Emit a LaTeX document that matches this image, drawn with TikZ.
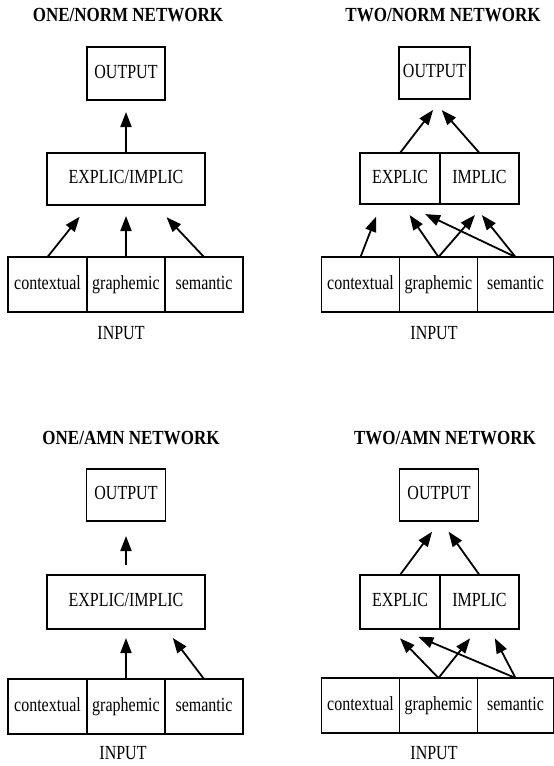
\documentclass[tikz,border=0pt]{standalone}
\usepackage{fontspec}
\setmainfont{Liberation Serif}[FakeStretch=0.8]
\newfontfamily\headfont{Liberation Serif}[FakeStretch=0.85]
\usetikzlibrary{positioning, arrows.meta}
\tikzset{x=1pt, y=-1pt, % one unit is one pixel of the page, y runs down
box/.style={ % Sets the properties for each unit box
draw, line width=1.5pt,
outer sep=0pt, inner sep=0pt,
text height=14pt, text depth=5pt,
font=\fontsize{20}{22}\selectfont},
inbox/.style={box, minimum height=55pt}, % Input boxes sit side by side
heading/.style={font=\headfont\fontsize{20}{22}\selectfont\bfseries},
tag/.style={font=\fontsize{20}{22}\selectfont},
link/.style={ % Sets the properties for each connection
draw, line width=1.8pt,
-{Triangle[length=15pt,width=11pt]}}}

\begin{document}
\begin{tikzpicture}
    \useasboundingbox (0,0) rectangle (554,766);

    % ONE/NORM
    \node[heading] (t1) at (128,15) {ONE/NORM NETWORK};
    \node[box, minimum width=78pt, minimum height=53pt] (out1) at (126,73.5) {OUTPUT};
    \node[box, minimum width=158pt, minimum height=52pt] (mix1) at (126,179) {EXPLIC/IMPLIC};
    \node[inbox, minimum width=79pt] (ctx1) at (47.5,284.5) {contextual};
    \node[inbox, minimum width=78pt, right=0pt of ctx1] (gra1) {graphemic};
    \node[inbox, minimum width=78pt, right=0pt of gra1] (sem1) {semantic};
    \node[tag] (in1) at (121,333) {INPUT};

    \draw[link, shorten >=12pt] (mix1.north) -- (out1.south);
    \draw[link, shorten >=15pt] (ctx1.north) -- ([xshift=-37pt]mix1.south);
    \draw[link, shorten >=11pt] (gra1.north) -- (mix1.south);
    \draw[link, shorten >=16.8pt] (sem1.north) -- ([xshift=29pt]mix1.south);

    % TWO/NORM
    \node[heading] (t2) at (443,15) {TWO/NORM NETWORK};
    \node[box, minimum width=71pt, minimum height=52pt] (out2) at (434.5,73) {OUTPUT};
    \node[box, minimum width=80pt, minimum height=51pt] (exp2) at (400,178.5) {EXPLIC};
    \node[box, minimum width=79pt, minimum height=51pt, right=0pt of exp2] (imp2) {IMPLIC};
    \node[inbox, minimum width=78pt] (ctx2) at (360.5,284.5) {contextual};
    \node[inbox, minimum width=78pt, right=0pt of ctx2] (gra2) {graphemic};
    \node[inbox, minimum width=76pt, right=0pt of gra2] (sem2) {semantic};
    \node[tag] (in2) at (434,333) {INPUT};

    \draw[link, shorten >=13.8pt] (exp2.north) -- ([xshift=7pt]out2.south);
    \draw[link, shorten >=14.7pt] (imp2.north) -- ([xshift=-2.5pt]out2.south);
    \draw[link, shorten >=13.6pt] (ctx2.north) -- ([xshift=-19pt]exp2.south);
    \draw[link, shorten >=13.4pt] (gra2.north) -- ([xshift=2pt]exp2.south);
    \draw[link, shorten >=14.6pt] (gra2.north) -- ([xshift=5pt]imp2.south);
    \draw[link, shorten >=23.4pt] (sem2.north) -- ([xshift=4pt]exp2.south);
    \draw[link, shorten >=14.2pt] (sem2.north) -- ([xshift=-6.5pt]imp2.south);

    % ONE/AMN
    \node[heading] (t3) at (131,438) {ONE/AMN NETWORK};
    \node[box, minimum width=79pt, minimum height=52pt] (out3) at (126,495) {OUTPUT};
    \node[box, minimum width=158pt, minimum height=54pt] (mix3) at (126,602) {EXPLIC/IMPLIC};
    \node[inbox, minimum width=79pt] (ctx3) at (47.5,706.5) {contextual};
    \node[inbox, minimum width=78pt, right=0pt of ctx3] (gra3) {graphemic};
    \node[inbox, minimum width=78pt, right=0pt of gra3] (sem3) {semantic};
    \node[tag] (in3) at (123,753) {INPUT};

    \draw[link, shorten <=10pt, shorten >=15pt] (mix3.north) -- (out3.south);
    \draw[link, shorten >=9pt] (gra3.north) -- (mix3.south);
    \draw[link, shorten >=11.3pt] (sem3.north) -- ([xshift=40pt]mix3.south);

    % TWO/AMN
    \node[heading] (t4) at (445,438) {TWO/AMN NETWORK};
    \node[box, minimum width=79pt, minimum height=52pt] (out4) at (439,495) {OUTPUT};
    \node[box, minimum width=80pt, minimum height=54pt] (exp4) at (400,602) {EXPLIC};
    \node[box, minimum width=79pt, minimum height=54pt, right=0pt of exp4] (imp4) {IMPLIC};
    \node[inbox, minimum width=78pt] (ctx4) at (360.5,705.5) {contextual};
    \node[inbox, minimum width=78pt, right=0pt of ctx4] (gra4) {graphemic};
    \node[inbox, minimum width=76pt, right=0pt of gra4] (sem4) {semantic};
    \node[tag] (in4) at (434,753) {INPUT};

    \draw[link, shorten >=13.3pt] (exp4.north) -- ([xshift=1pt]out4.south);
    \draw[link, shorten >=13.1pt] (imp4.north) -- ([xshift=2pt]out4.south);
    \draw[link, shorten >=12.9pt] (gra4.north) -- ([xshift=-9pt]exp4.south);
    \draw[link, shorten >=11.9pt] (gra4.north) -- ([xshift=-2pt]imp4.south);
    \draw[link, shorten >=19.9pt] (sem4.north) -- (exp4.south);
    \draw[link, shorten >=10.5pt] (sem4.north) -- ([xshift=10.5pt]imp4.south);

\end{tikzpicture}
\end{document}
